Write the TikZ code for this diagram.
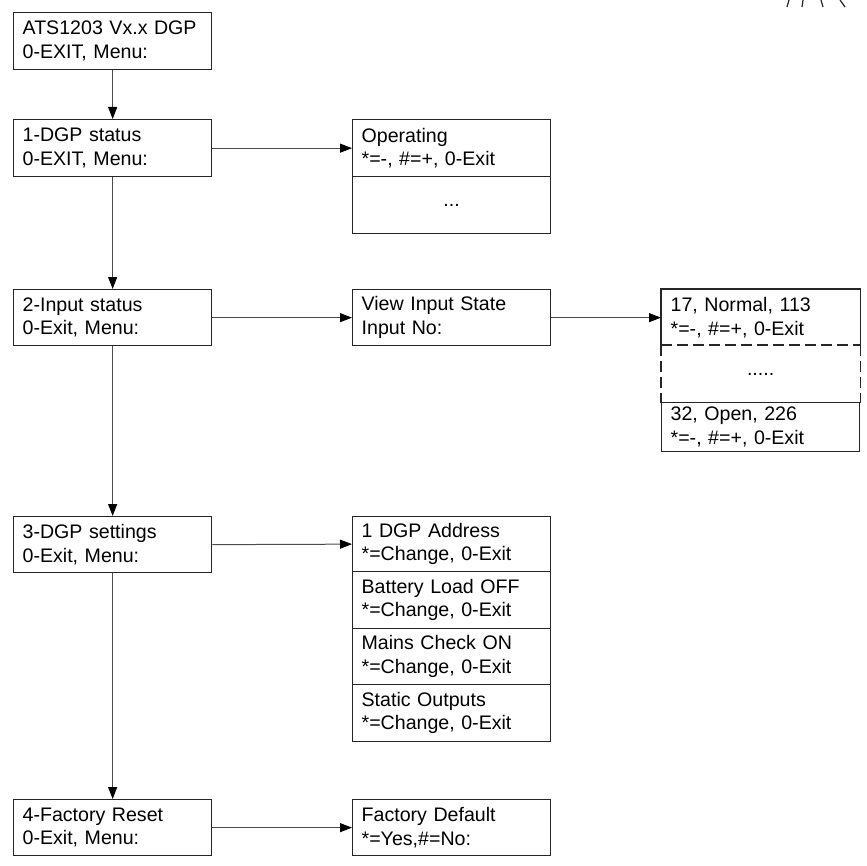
\documentclass[tikz,border=0pt]{standalone}
\usepackage{fontspec}
\setmainfont{Liberation Sans}
\usetikzlibrary{arrows.meta}
\begin{document}
\begin{tikzpicture}[x=1pt,y=-1pt,
  box/.style={draw=black!85, line width=1.3pt, rectangle, minimum width=198pt, text width=180pt,
    inner xsep=9pt, inner ysep=0pt, align=left, font=\fontsize{19.6}{23.5}\selectfont, anchor=north west},
  dotsbox/.style={box, align=center},
  conn/.style={draw=black!70, line width=1pt, -{Triangle[length=12pt,width=9pt,color=black]}},
  dashline/.style={draw=black!85, line width=1.3pt, dash pattern=on 11pt off 5pt},
  tickline/.style={draw=black!85, line width=1.2pt}
]
\useasboundingbox (0,0) rectangle (866,866);

% left column
\node[box, minimum height=57pt] (main) at (13,12) {ATS1203 Vx.x DGP\\0-EXIT, Menu:};
\node[box, minimum height=57pt] (dgp) at (13,119) {1-DGP status\\0-EXIT, Menu:};
\node[box, minimum height=56pt] (inp) at (13,289) {2-Input status\\0-Exit, Menu:};
\node[box, minimum height=56pt] (set) at (13,516) {3-DGP settings\\0-Exit, Menu:};
\node[box, minimum height=56pt] (fac) at (13,799) {4-Factory Reset\\0-Exit, Menu:};

% middle column
\node[box, minimum height=57pt] (oper) at (352,119) {Operating\\{}*=-, \#=+, 0-Exit};
\node[dotsbox, minimum height=57pt] (operdots) at (352,176) {...};
\node[box, minimum height=56pt] (view) at (352,289) {View Input State\\Input No:};
\node[box, minimum height=55pt] (set1) at (352,516) {1 DGP Address\\{}*=Change, 0-Exit};
\node[box, minimum height=57pt] (set2) at (352,571) {Battery Load OFF\\{}*=Change, 0-Exit};
\node[box, minimum height=56pt] (set3) at (352,628) {Mains Check ON\\{}*=Change, 0-Exit};
\node[box, minimum height=57pt] (set4) at (352,684) {Static Outputs\\{}*=Change, 0-Exit};
\node[box, minimum height=56pt] (facdef) at (352,799) {Factory Default\\{}*=Yes,\#=No:};

% right column
\node[box, draw=none, minimum height=56pt] (st1) at (661,289) {17, Normal, 113\\{}*=-, \#=+, 0-Exit};
\node[dotsbox, draw=none, minimum height=57pt] (stdots) at (661,345) {.....};
\node[box, minimum height=49pt] (st2) at (661,402) {32, Open, 226\\{}*=-, \#=+, 0-Exit};
\draw[draw=black!85, line width=1.3pt] (st1.south west) -- (st1.north west) -- (st1.north east) -- (st1.south east);
\draw[dashline] (stdots.north west) -- (stdots.north east);
\draw[dashline] (stdots.north west) -- (stdots.south west);
\draw[dashline] (stdots.north east) -- (stdots.south east);

% connectors
\draw[conn] (main.south) -- (dgp.north);
\draw[conn] (dgp.south) -- (inp.north);
\draw[conn] (inp.south) -- (set.north);
\draw[conn] (set.south) -- (fac.north);
\draw[conn] (dgp.east) -- (oper.west);
\draw[conn] (inp.east) -- (view.west);
\draw[conn] (view.east) -- (st1.west);
\draw[conn] (set.east) -- (set1.west);
\draw[conn] (fac.east) -- (facdef.west);

% cut-off marks at top right
\draw[tickline] (789,0) -- (787,7);
\draw[tickline] (803,0) -- (802,7);
\draw[tickline] (821,0) -- (823,7);
\draw[tickline] (840,0) -- (845,7);
\end{tikzpicture}
\end{document}
